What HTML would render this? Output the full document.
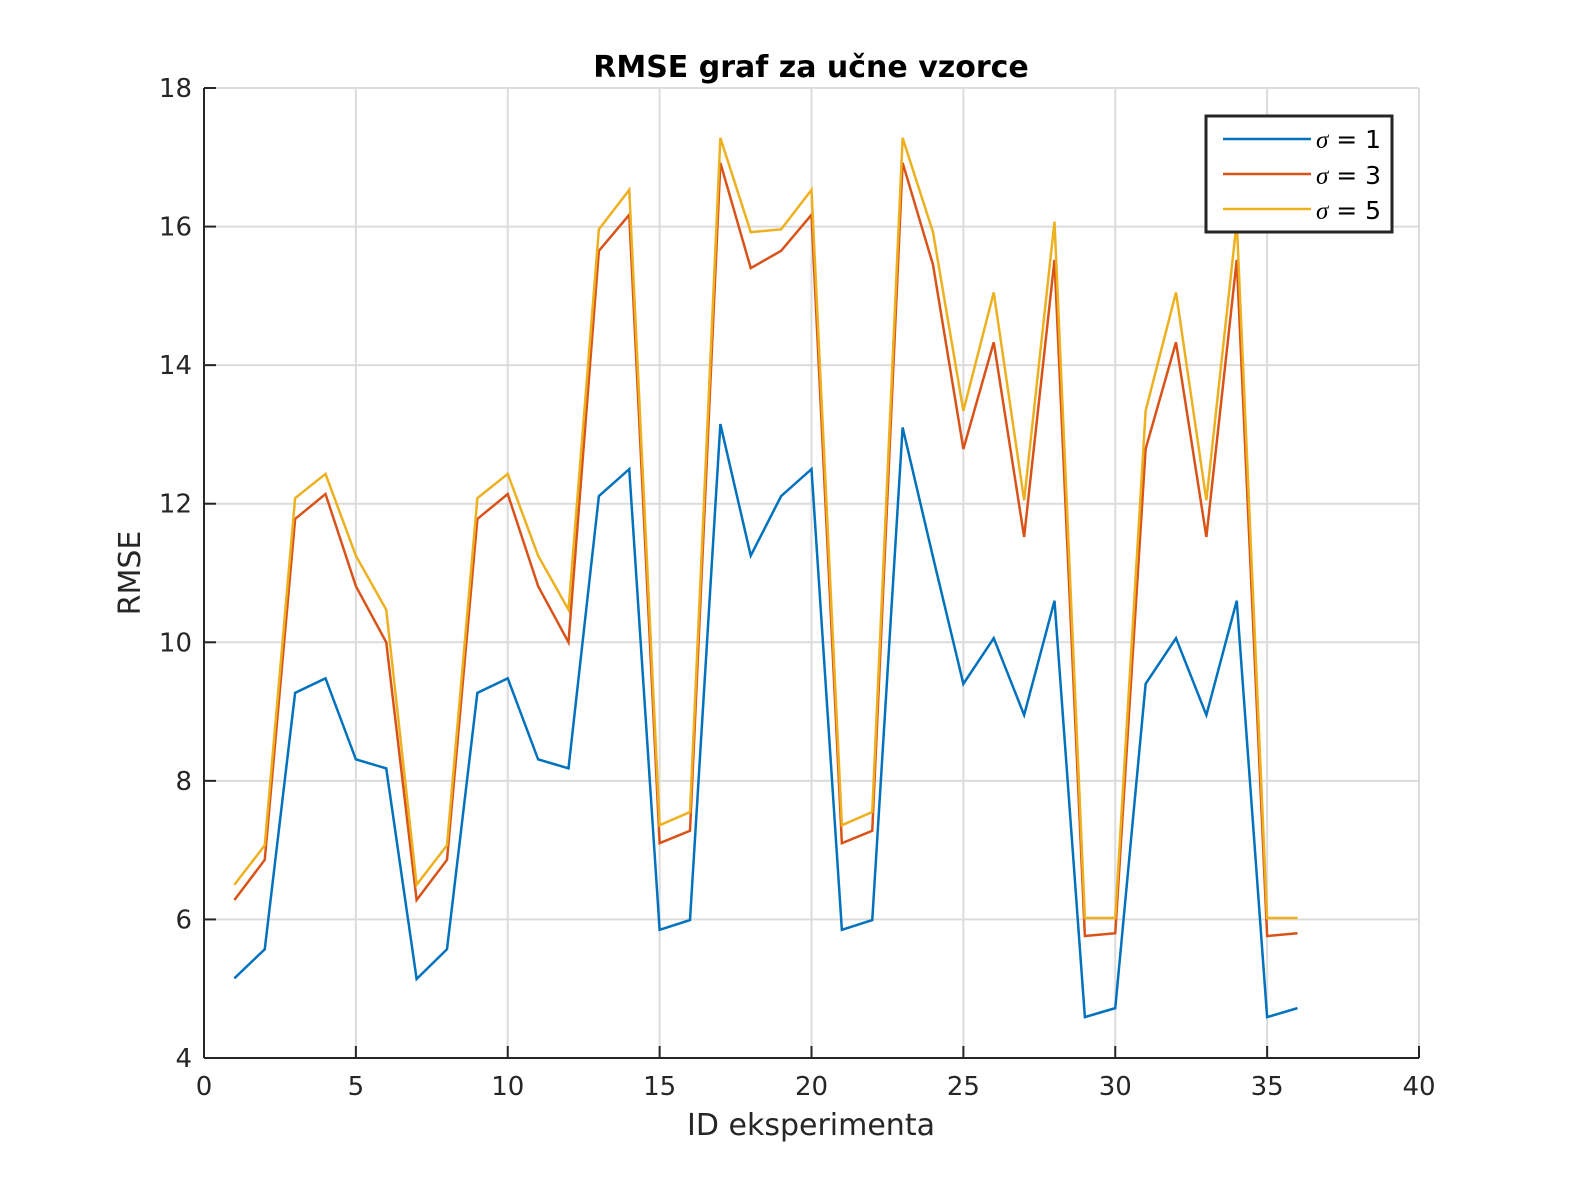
<!DOCTYPE html>
<html><head><meta charset="utf-8"><style>
body{margin:0;background:#fff}
svg{display:block;font-family:"DejaVu Sans","Liberation Sans",sans-serif}
</style></head><body>
<svg id="chart" width="1571" height="1191">
<rect width="1571" height="1191" fill="#fff"/>
<g id="grid"></g>
<g id="axes"></g>
<g id="series"></g>
<text x="811" y="77" text-anchor="middle" font-weight="bold" font-size="30" fill="#000">RMSE graf za učne vzorce</text>
<text x="811" y="1135" text-anchor="middle" font-size="30" fill="#262626">ID eksperimenta</text>
<text transform="translate(140,573) rotate(-90)" text-anchor="middle" font-size="30" fill="#262626">RMSE</text>
<g>
<rect x="1206" y="116" width="186" height="116" fill="#fff" stroke="#262626" stroke-width="3"/>
<g><line x1="1223" y1="139" x2="1311" y2="139" stroke="#0072BD" stroke-width="2.5"/><text x="1316" y="148" font-size="25" fill="#000"><tspan font-style="italic" font-family="Liberation Serif,serif">σ</tspan> = 1</text></g>
<g><line x1="1223" y1="174" x2="1311" y2="174" stroke="#D95319" stroke-width="2.5"/><text x="1316" y="184" font-size="25" fill="#000"><tspan font-style="italic" font-family="Liberation Serif,serif">σ</tspan> = 3</text></g>
<g><line x1="1223" y1="209" x2="1311" y2="209" stroke="#EDB120" stroke-width="2.5"/><text x="1316" y="219" font-size="25" fill="#000"><tspan font-style="italic" font-family="Liberation Serif,serif">σ</tspan> = 5</text></g>
</g>
</svg>
<script>
const xTicks=[0,5,10,15,20,25,30,35,40];
const yTicks=[4,6,8,10,12,14,16,18];
const ids=[1,2,3,4,5,6,7,8,9,10,11,12,13,14,15,16,17,18,19,20,21,22,23,24,25,26,27,28,29,30,31,32,33,34,35,36];
const sigma1=[5.15,5.57,9.27,9.48,8.31,8.18,5.14,5.57,9.27,9.48,8.31,8.18,12.11,12.5,5.85,5.99,13.15,11.25,12.11,12.5,5.85,5.99,13.1,11.23,9.4,10.06,8.95,10.6,4.59,4.72,9.4,10.06,8.95,10.6,4.59,4.72];
const sigma3=[6.28,6.86,11.78,12.14,10.81,10.0,6.28,6.86,11.78,12.14,10.81,10.0,15.65,16.17,7.1,7.28,16.92,15.4,15.65,16.17,7.1,7.28,16.92,15.45,12.79,14.33,11.52,15.52,5.76,5.8,12.79,14.33,11.52,15.52,5.76,5.8];
const sigma5=[6.5,7.07,12.08,12.43,11.25,10.47,6.5,7.07,12.08,12.43,11.25,10.47,15.96,16.53,7.36,7.55,17.28,15.92,15.96,16.53,7.36,7.55,17.28,15.92,13.34,15.05,12.05,16.07,6.02,6.02,13.34,15.05,12.05,16.07,6.02,6.02];
const NS="http://www.w3.org/2000/svg";
const X0=204,X1=1419,Y0=1058,Y1=88;
const sx=v=>X0+(v-0)/(40-0)*(X1-X0);
const sy=v=>Y0-(v-4)/(18-4)*(Y0-Y1);
function mk(tag,attrs,parent){const e=document.createElementNS(NS,tag);for(const k in attrs)e.setAttribute(k,attrs[k]);parent.appendChild(e);return e;}
const grid=document.getElementById('grid'),axes=document.getElementById('axes'),ser=document.getElementById('series');
xTicks.forEach(t=>{
  const g=mk('line',{x1:sx(t),x2:sx(t),y1:Y1,y2:Y0,stroke:'#dcdcdc','stroke-width':2},grid);
  
  
  const tk=mk('line',{x1:sx(t),x2:sx(t),y1:Y0,y2:Y0-12,stroke:'#262626','stroke-width':2},axes);
  
  
  const lb=mk('text',{x:sx(t),y:Y0+37,'text-anchor':'middle','font-size':26,fill:'#262626'},axes);
  lb.textContent=t;
  
  
});
yTicks.forEach(t=>{
  const g=mk('line',{x1:X0,x2:X1,y1:sy(t),y2:sy(t),stroke:'#dcdcdc','stroke-width':2},grid);
  
  
  const tk=mk('line',{x1:X0,x2:X0+12,y1:sy(t),y2:sy(t),stroke:'#262626','stroke-width':2},axes);
  
  
  const lb=mk('text',{x:X0-12,y:sy(t)+9,'text-anchor':'end','font-size':26,fill:'#262626'},axes);
  lb.textContent=t;
  
  
});
const xa=mk('line',{x1:X0,x2:X1,y1:Y0,y2:Y0,stroke:'#262626','stroke-width':2},axes);


const ya=mk('line',{x1:X0,x2:X0,y1:Y1,y2:Y0,stroke:'#262626','stroke-width':2},axes);


[[sigma1,'#0072BD','line-sigma-1'],[sigma3,'#D95319','line-sigma-3'],[sigma5,'#EDB120','line-sigma-5']].forEach(([d,c,n])=>{
  const p=mk('polyline',{points:d.map((v,i)=>sx(ids[i])+','+sy(v)).join(' '),fill:'none',stroke:c,'stroke-width':2.5},ser);
  
  
});
</script>
</body></html>
